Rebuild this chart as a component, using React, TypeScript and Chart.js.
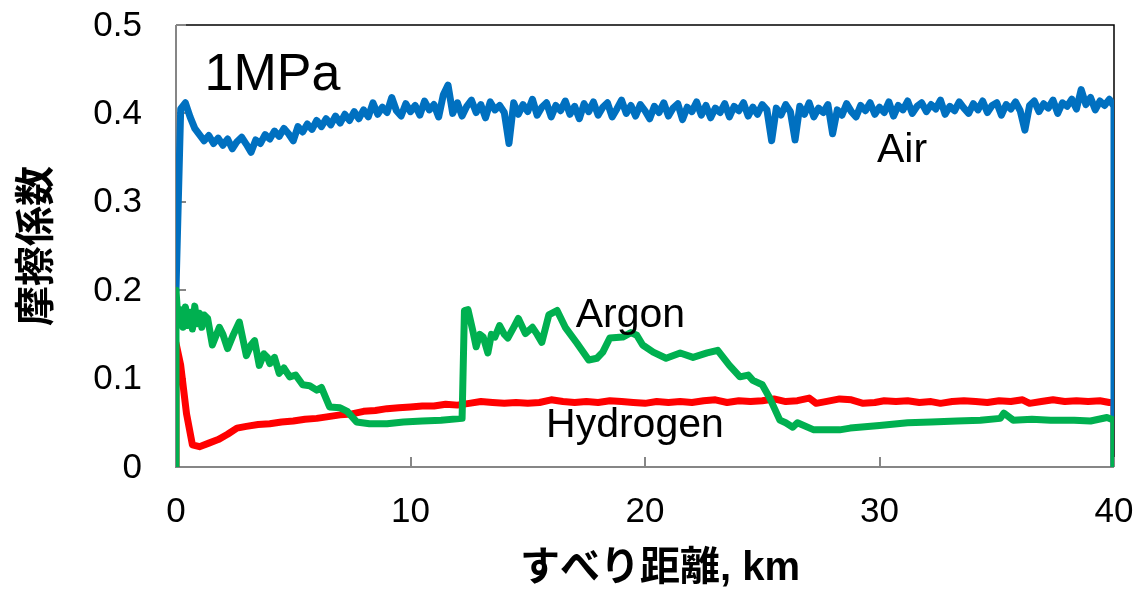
import React, { useEffect, useRef } from "react";
import { Chart, registerables } from "chart.js";

Chart.register(...registerables);

// ---- Data (sliding distance in km, friction coefficient) ----
const xTicks = [0, 10, 20, 30, 40];
const yTicks = [0, 0.1, 0.2, 0.3, 0.4, 0.5];

const airKm = [
  0, 0.2, 0.4, 0.6, 0.8, 1, 1.2, 1.4, 1.6, 1.8,
  2, 2.2, 2.4, 2.6, 2.8, 3, 3.2, 3.4, 3.6, 3.8,
  4, 4.2, 4.4, 4.6, 4.8, 5, 5.2, 5.4, 5.6, 5.8,
  6, 6.2, 6.4, 6.6, 6.8, 7, 7.2, 7.4, 7.6, 7.8,
  8, 8.2, 8.4, 8.6, 8.8, 9, 9.2, 9.4, 9.6, 9.8,
  10, 10.2, 10.4, 10.6, 10.8, 11, 11.2, 11.4, 11.6, 11.8,
  12, 12.2, 12.4, 12.6, 12.8, 13, 13.2, 13.4, 13.6, 13.8,
  14, 14.2, 14.4, 14.6, 14.8, 15, 15.2, 15.4, 15.6, 15.8,
  16, 16.2, 16.4, 16.6, 16.8, 17, 17.2, 17.4, 17.6, 17.8,
  18, 18.2, 18.4, 18.6, 18.8, 19, 19.2, 19.4, 19.6, 19.8,
  20, 20.2, 20.4, 20.6, 20.8, 21, 21.2, 21.4, 21.6, 21.8,
  22, 22.2, 22.4, 22.6, 22.8, 23, 23.2, 23.4, 23.6, 23.8,
  24, 24.2, 24.4, 24.6, 24.8, 25, 25.2, 25.4, 25.6, 25.8,
  26, 26.2, 26.4, 26.6, 26.8, 27, 27.2, 27.4, 27.6, 27.8,
  28, 28.2, 28.4, 28.6, 28.8, 29, 29.2, 29.4, 29.6, 29.8,
  30, 30.2, 30.4, 30.6, 30.8, 31, 31.2, 31.4, 31.6, 31.8,
  32, 32.2, 32.4, 32.6, 32.8, 33, 33.2, 33.4, 33.6, 33.8,
  34, 34.2, 34.4, 34.6, 34.8, 35, 35.2, 35.4, 35.6, 35.8,
  36, 36.2, 36.4, 36.6, 36.8, 37, 37.2, 37.4, 37.6, 37.8,
  38, 38.2, 38.4, 38.6, 38.8, 39, 39.2, 39.4, 39.6, 39.8,
  40, 40,
];
const airMu = [
  0.2, 0.405, 0.412, 0.396, 0.383, 0.376, 0.369, 0.375, 0.366, 0.372,
  0.364, 0.371, 0.36, 0.368, 0.373, 0.365, 0.356, 0.37, 0.366, 0.376,
  0.371, 0.38, 0.374, 0.383, 0.377, 0.369, 0.385, 0.379, 0.388, 0.382,
  0.392, 0.385, 0.394, 0.387, 0.397, 0.389, 0.399, 0.392, 0.402, 0.394,
  0.404, 0.396, 0.412, 0.399, 0.407, 0.401, 0.418, 0.403, 0.397, 0.411,
  0.402, 0.409, 0.398, 0.414, 0.404, 0.41, 0.396, 0.421, 0.432, 0.4,
  0.412, 0.397, 0.408, 0.415, 0.401, 0.41, 0.395, 0.413, 0.404, 0.409,
  0.401, 0.366, 0.412, 0.399, 0.41, 0.402, 0.416, 0.398, 0.407, 0.412,
  0.396, 0.409, 0.403, 0.414, 0.399, 0.408, 0.394, 0.411, 0.402, 0.413,
  0.398, 0.407, 0.412, 0.396, 0.405, 0.415, 0.4, 0.409, 0.397, 0.41,
  0.403, 0.394, 0.408, 0.401, 0.412, 0.397, 0.406, 0.411, 0.393, 0.407,
  0.402, 0.413, 0.398, 0.409, 0.395, 0.406, 0.401, 0.411, 0.396, 0.408,
  0.403, 0.412, 0.397, 0.407, 0.399, 0.41, 0.404, 0.369, 0.406, 0.398,
  0.41, 0.402, 0.37, 0.408, 0.399, 0.412, 0.396, 0.406, 0.401, 0.41,
  0.377, 0.404, 0.398, 0.411, 0.402, 0.396, 0.409, 0.403, 0.412, 0.399,
  0.407, 0.401, 0.413, 0.397, 0.409, 0.404, 0.414, 0.4, 0.408, 0.412,
  0.402, 0.41, 0.405, 0.415, 0.399, 0.408, 0.403, 0.413, 0.406, 0.4,
  0.411, 0.404, 0.414, 0.401, 0.409, 0.412, 0.398, 0.41, 0.405, 0.413,
  0.403, 0.381, 0.409, 0.414, 0.402, 0.411, 0.406, 0.415, 0.4, 0.412,
  0.408, 0.416, 0.405, 0.427, 0.41, 0.418, 0.404, 0.414, 0.409, 0.416,
  0.408, 0,
];

const argonKm = [
  0, 0, 0.1, 0.2, 0.3, 0.4, 0.5, 0.6, 0.7, 0.8, 0.9, 1.0, 1.1, 1.2, 1.35,
  1.55, 1.85, 2.0, 2.2, 2.45, 2.7, 3.0, 3.2, 3.35, 3.55, 3.75, 3.9, 4.0, 4.2,
  4.4, 4.6, 4.85, 5.1, 5.4, 5.7, 6.0, 6.2, 6.55, 7.0, 7.3, 7.7, 8.25, 9.0,
  9.7, 10.5, 11.3, 12.2, 12.3, 12.45, 12.65, 12.8, 12.95, 13.1, 13.3, 13.45,
  13.6, 13.8, 14.0, 14.15, 14.4, 14.6, 14.9, 15.2, 15.4, 15.6, 15.9, 16.25,
  16.6, 17.1, 17.6, 17.95, 18.2, 18.5, 19.05, 19.4, 19.65, 19.9, 20.35, 20.9,
  21.5, 22.05, 22.65, 23.1, 23.6, 24.05, 24.4, 24.6, 25.0, 25.3, 25.75, 26.0,
  26.3, 26.5, 27.2, 28.3, 28.75, 30.0, 31.2, 32.2, 33.3, 34.3, 35.15, 35.3,
  35.7, 36.5, 37.3, 38.3, 39.0, 39.7, 40, 40,
];
const argonMu = [
  0, 0.2, 0.16, 0.178, 0.158, 0.181, 0.16, 0.175, 0.156, 0.182, 0.162, 0.174, 0.158, 0.172, 0.168,
  0.138, 0.158, 0.15, 0.134, 0.15, 0.164, 0.126, 0.138, 0.143, 0.115, 0.128, 0.124, 0.117, 0.124,
  0.106, 0.112, 0.102, 0.104, 0.093, 0.092, 0.087, 0.09, 0.068, 0.067, 0.063, 0.051, 0.049, 0.049,
  0.051, 0.052, 0.053, 0.055, 0.177, 0.178, 0.155, 0.136, 0.15, 0.147, 0.129, 0.15,
  0.147, 0.16, 0.15, 0.146, 0.158, 0.168, 0.151, 0.158, 0.15, 0.141, 0.172, 0.177,
  0.158, 0.14, 0.121, 0.123, 0.13, 0.146, 0.147, 0.152, 0.149, 0.138, 0.13, 0.123,
  0.129, 0.124, 0.129, 0.132, 0.115, 0.102, 0.104, 0.098, 0.093, 0.079, 0.053, 0.05,
  0.045, 0.05, 0.042, 0.042, 0.044, 0.047, 0.05, 0.051, 0.052, 0.053, 0.055, 0.061,
  0.053, 0.054, 0.053, 0.053, 0.052, 0.056, 0.053, 0,
];

const hydrogenKm = [
  0, 0, 0.2, 0.45, 0.7, 1.0, 1.4, 1.8, 2.2, 2.6, 3.0, 3.5, 4.0, 4.5, 5.0,
  5.5, 6.0, 6.5, 7.0, 7.5, 8.0, 8.5, 9.0, 9.5, 10, 10.5, 11, 11.5, 12,
  12.5, 13, 13.5, 14, 14.5, 15, 15.5, 16, 16.5, 17, 17.5, 18, 18.5, 19,
  19.5, 20, 20.5, 21, 21.5, 22, 22.5, 23, 23.5, 24, 24.5, 25, 25.5, 26,
  26.5, 27, 27.3, 27.7, 28.3, 28.8, 29.3, 29.8, 30.2, 30.7, 31.2, 31.7,
  32.2, 32.6, 33.1, 33.6, 34.1, 34.6, 35.1, 35.6, 36.1, 36.4, 36.9, 37.4,
  37.9, 38.4, 38.9, 39.4, 39.8, 40, 40,
];
const hydrogenMu = [
  0, 0.14, 0.115, 0.06, 0.025, 0.023, 0.027, 0.031, 0.037, 0.044, 0.046, 0.048, 0.049, 0.051, 0.052,
  0.054, 0.055, 0.057, 0.059, 0.06, 0.063, 0.064, 0.066, 0.067, 0.068, 0.069, 0.069, 0.071, 0.07,
  0.072, 0.074, 0.073, 0.072, 0.073, 0.072, 0.073, 0.076, 0.074, 0.073, 0.074, 0.073, 0.075, 0.074,
  0.073, 0.072, 0.074, 0.073, 0.074, 0.073, 0.075, 0.076, 0.073, 0.075, 0.074, 0.075, 0.077, 0.074,
  0.075, 0.078, 0.072, 0.074, 0.077, 0.076, 0.072, 0.073, 0.075, 0.074, 0.075, 0.073,
  0.074, 0.072, 0.074, 0.075, 0.074, 0.073, 0.075, 0.074, 0.076, 0.072, 0.074, 0.076,
  0.074, 0.075, 0.074, 0.075, 0.073, 0.073, 0,
];

// annotation labels: text, position (km, friction coefficient at baseline), font size
const labelTexts = ["1MPa", "Air", "Argon", "Hydrogen"];
const labelKm = [4.11, 30.96, 19.38, 19.57];
const labelMu = [0.4265, 0.345, 0.158, 0.034];
const labelSizes = [52, 41, 41, 41];

const xTitle = "すべり距離, km";
const yTitle = "摩擦係数";

const FONT = '"Liberation Sans", Arial, "Noto Sans CJK JP", sans-serif';
const FONT_CJK = '"Liberation Sans", "Noto Sans CJK JP", sans-serif';

const toPoints = (xs: number[], ys: number[]) => xs.map((x, i) => ({ x, y: ys[i] }));
const fmtY = (v: number) => (v === 0 ? "0" : v.toFixed(1));

const framePlugin = {
  id: "frame",
  beforeDatasetsDraw(chart: any) {
    const { ctx, chartArea } = chart;
    const { left, right, top, bottom } = chartArea;
    const xs = chart.scales.x;
    const ys = chart.scales.y;
    ctx.save();
    // black plot border (top & right)
    ctx.strokeStyle = "#000000";
    ctx.lineWidth = 1.5;
    ctx.beginPath();
    ctx.moveTo(left, top);
    ctx.lineTo(right, top);
    ctx.lineTo(right, bottom);
    ctx.stroke();
    // gray axes
    ctx.strokeStyle = "#868686";
    ctx.lineWidth = 2;
    ctx.beginPath();
    ctx.moveTo(left, top);
    ctx.lineTo(left, bottom);
    ctx.lineTo(right, bottom);
    ctx.stroke();
    // inside ticks
    ctx.beginPath();
    yTicks.forEach((v) => {
      const py = Math.round(ys.getPixelForValue(v));
      ctx.moveTo(left, py);
      ctx.lineTo(left + 10, py);
    });
    xTicks.forEach((v) => {
      const px = Math.round(xs.getPixelForValue(v));
      ctx.moveTo(px, bottom);
      ctx.lineTo(px, bottom - 10);
    });
    ctx.stroke();
    // tick labels
    ctx.fillStyle = "#000000";
    ctx.font = `35px ${FONT}`;
    ctx.textAlign = "right";
    ctx.textBaseline = "middle";
    yTicks.forEach((v) => {
      ctx.fillText(fmtY(v), left - 34, ys.getPixelForValue(v) + 1);
    });
    ctx.textAlign = "center";
    xTicks.forEach((v) => {
      ctx.fillText(String(v), xs.getPixelForValue(v), bottom + 45);
    });
    ctx.restore();
  },
  afterDatasetsDraw(chart: any) {
    const { ctx, chartArea } = chart;
    const xs = chart.scales.x;
    const ys = chart.scales.y;
    ctx.save();
    ctx.fillStyle = "#000000";
    ctx.textAlign = "center";
    ctx.textBaseline = "alphabetic";
    labelTexts.forEach((t, i) => {
      ctx.font = `${labelSizes[i]}px ${FONT}`;
      ctx.fillText(t, xs.getPixelForValue(labelKm[i]), ys.getPixelForValue(labelMu[i]));
    });
    // axis titles
    ctx.textBaseline = "middle";
    ctx.font = `bold 40px ${FONT_CJK}`;
    ctx.fillText(xTitle, 660, 569);
    ctx.save();
    ctx.translate(38, (chartArea.top + chartArea.bottom) / 2);
    ctx.rotate(-Math.PI / 2);
    ctx.fillText(yTitle, 0, 0);
    ctx.restore();
    ctx.restore();
  },
};

export default function App() {
  const canvasRef = useRef<HTMLCanvasElement | null>(null);

  useEffect(() => {
    if (!canvasRef.current) return;
    const chart = new Chart(canvasRef.current, {
      type: "line",
      data: {
        datasets: [
          {
            label: "Argon",
            data: toPoints(argonKm, argonMu),
            borderColor: "#00B050",
            order: 0,
          },
          {
            label: "Air",
            data: toPoints(airKm, airMu),
            borderColor: "#0070C0",
            order: 1,
          },
          {
            label: "Hydrogen",
            data: toPoints(hydrogenKm, hydrogenMu),
            borderColor: "#FF0000",
            order: 2,
          },
        ],
      },
      options: {
        responsive: false,
        animation: false,
        parsing: false,
        normalized: true,
        layout: { padding: { top: 25, right: 25, left: 0, bottom: 0 } },
        elements: {
          line: {
            borderWidth: 7,
            tension: 0,
            borderJoinStyle: "round",
            borderCapStyle: "round",
          },
          point: { radius: 0, hoverRadius: 0 },
        },
        plugins: {
          legend: { display: false },
          tooltip: { enabled: false },
          title: { display: false },
        },
        events: [],
        scales: {
          x: {
            type: "linear",
            min: 0,
            max: 40,
            ticks: { display: false, stepSize: 10 },
            grid: { display: false, drawTicks: false },
            border: { display: false },
            afterFit: (scale: any) => {
              scale.height = 125;
            },
          },
          y: {
            type: "linear",
            min: 0,
            max: 0.5,
            ticks: { display: false, stepSize: 0.1 },
            grid: { display: false, drawTicks: false },
            border: { display: false },
            afterFit: (scale: any) => {
              scale.width = 176;
            },
          },
        },
      } as any,
      plugins: [framePlugin],
    });
    return () => chart.destroy();
  }, []);

  return (
    <div style={{ position: "absolute", left: 0, top: 0, width: 1139, height: 592, background: "#ffffff" }}>
      <canvas ref={canvasRef} width={1139} height={592} style={{ display: "block" }} />
    </div>
  );
}
